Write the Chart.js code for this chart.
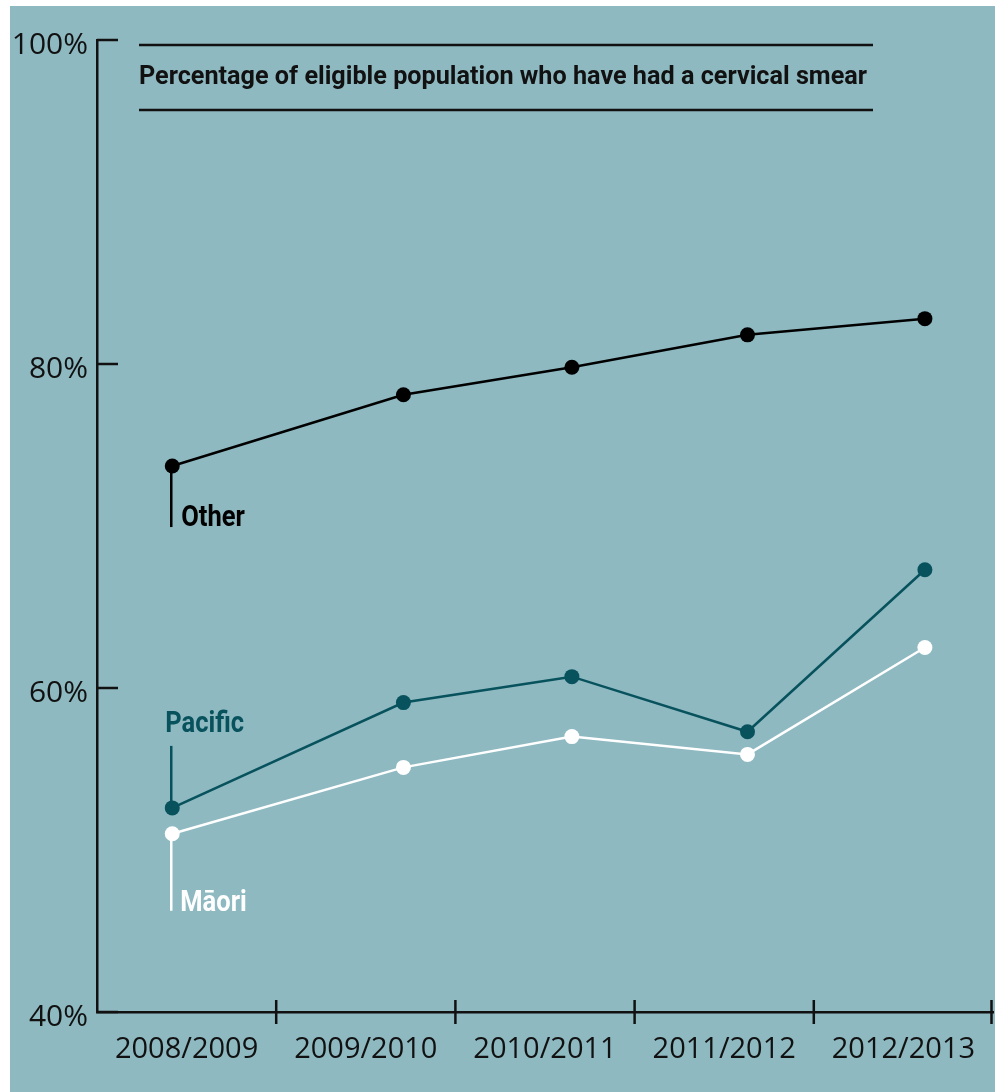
<!DOCTYPE html>
<html>
<head>
<meta charset="utf-8">
<script src="https://cdn.jsdelivr.net/npm/chart.js@4"></script>
<style>
  html, body { margin: 0; padding: 0; background: #ffffff; }
  #panel { position: absolute; left: 10px; top: 6px; width: 985px; height: 1086px; background: #8eb9c1; }
  #chart { position: absolute; left: 0; top: 0; }
</style>
</head>
<body>
<div id="panel"></div>
<canvas id="chart" width="995" height="1092"></canvas>
<script>
// Data
const periods = ['2008/2009', '2009/2010', '2010/2011', '2011/2012', '2012/2013'];
// where each survey point sits inside its period (periods are 1 unit wide)
const pointPos = [0.42, 1.71, 2.65, 3.63, 4.62];
const other = [73.7, 78.1, 79.8, 81.8, 82.8];
const pacific = [52.6, 59.1, 60.7, 57.3, 67.3];
const maori = [51.0, 55.1, 57.0, 55.9, 62.5];
const yTicks = [40, 60, 80, 100];
const title = 'Percentage of eligible population who have had a cervical smear';

const INK = '#111111';
const PACIFIC = '#07525c';

function toPoints(values) {
  return pointPos.map((x, i) => ({ x: x, y: values[i] }));
}

function series(label, values, color) {
  return {
    label: label,
    data: toPoints(values),
    borderColor: color,
    backgroundColor: color,
    pointBackgroundColor: color,
    pointBorderColor: color,
    borderWidth: 2.5,
    pointRadius: 7.5,
    pointBorderWidth: 0,
    tension: 0
  };
}

// condensed-looking text: draw squeezed horizontally
function squeezeText(ctx, text, x, y, sx) {
  ctx.save();
  ctx.translate(x, y);
  ctx.scale(sx, 1);
  ctx.fillText(text, 0, 0);
  ctx.restore();
}

// axis tick marks, title block and series labels
const decorPlugin = {
  id: 'decor',
  afterDraw(chart) {
    const ctx = chart.ctx;
    const area = chart.chartArea;
    const xs = chart.scales.x;
    const ys = chart.scales.y;
    ctx.save();
    ctx.strokeStyle = INK;
    ctx.lineWidth = 2.5;

    // period boundary ticks crossing the x axis
    for (let i = 1; i <= periods.length; i++) {
      const px = Math.min(xs.getPixelForValue(i), area.right - 1.5);
      ctx.beginPath();
      ctx.moveTo(px, area.bottom - 12);
      ctx.lineTo(px, area.bottom + 12);
      ctx.stroke();
    }
    // y ticks pointing inward
    yTicks.forEach(v => {
      const py = ys.getPixelForValue(v);
      ctx.beginPath();
      ctx.moveTo(area.left, py);
      ctx.lineTo(area.left + 21, py);
      ctx.stroke();
    });

    // title between two rules
    const tLeft = 139, tRight = 873;
    ctx.beginPath();
    ctx.moveTo(tLeft, 45); ctx.lineTo(tRight, 45);
    ctx.moveTo(tLeft, 110); ctx.lineTo(tRight, 110);
    ctx.stroke();
    ctx.font = 'bold 26px Roboto';
    ctx.fillStyle = INK;
    ctx.textBaseline = 'alphabetic';
    const w = ctx.measureText(title).width;
    squeezeText(ctx, title, tLeft, 84, 728 / w);

    // series labels with leader lines from the first point
    const tags = [
      { ds: 0, text: 'Other', color: '#000000', lineTo: 61, tx: 9, ty: 60 },
      { ds: 1, text: 'Pacific', color: PACIFIC, lineTo: -62, tx: -7, ty: -76 },
      { ds: 2, text: 'M\u0101ori', color: '#ffffff', lineTo: 77, tx: 8, ty: 77 }
    ];
    ctx.font = 'bold 29px Roboto';
    tags.forEach(t => {
      const pt = chart.getDatasetMeta(t.ds).data[0];
      ctx.strokeStyle = t.color;
      ctx.lineWidth = 2.5;
      ctx.beginPath();
      ctx.moveTo(pt.x - 1, pt.y);
      ctx.lineTo(pt.x - 1, pt.y + t.lineTo);
      ctx.stroke();
      ctx.fillStyle = t.color;
      squeezeText(ctx, t.text, pt.x + t.tx, pt.y + t.ty, 0.88);
    });
    ctx.restore();
  }
};

new Chart(document.getElementById('chart'), {
  type: 'line',
  data: {
    datasets: [
      series('Other', other, '#000000'),
      series('Pacific', pacific, PACIFIC),
      series('M\u0101ori', maori, '#ffffff')
    ]
  },
  options: {
    responsive: false,
    animation: false,
    layout: { autoPadding: false, padding: { top: 40, right: 2, left: 0, bottom: 0 } },
    plugins: {
      legend: { display: false },
      tooltip: { enabled: false }
    },
    scales: {
      x: {
        type: 'linear',
        min: 0,
        max: periods.length,
        afterBuildTicks: (scale) => {
          scale.ticks = periods.map((p, i) => ({ value: i + 0.5 }));
        },
        afterFit: (scale) => {
          scale.height = 80;
          scale.paddingLeft = 0;
          scale.paddingRight = 0;
        },
        ticks: {
          autoSkip: false,
          maxRotation: 0,
          padding: 20,
          color: INK,
          font: { family: 'Open Sans', size: 29 },
          callback: (v, i) => periods[i]
        },
        grid: { display: false, drawTicks: false },
        border: { display: true, color: INK, width: 2.5 }
      },
      y: {
        min: 40,
        max: 100,
        afterBuildTicks: (scale) => {
          scale.ticks = yTicks.map(v => ({ value: v }));
        },
        afterFit: (scale) => {
          scale.width = 97;
          scale.paddingTop = 0;
          scale.paddingBottom = 0;
        },
        ticks: {
          padding: 9,
          labelOffset: 5,
          color: INK,
          font: { family: 'Open Sans', size: 30 },
          callback: (v) => v + '%'
        },
        grid: { display: false, drawTicks: false },
        border: { display: true, color: INK, width: 2.5 }
      }
    }
  },
  plugins: [decorPlugin]
});
</script>
</body>
</html>
